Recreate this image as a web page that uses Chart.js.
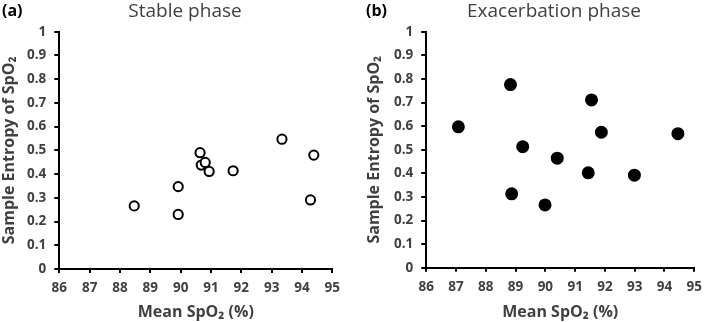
<!DOCTYPE html>
<html>
<head>
<meta charset="utf-8">
<script src="https://cdn.jsdelivr.net/npm/chart.js@4"></script>
<style>
  body { margin: 0; background: #fff; }
  #wrap { position: relative; width: 709px; height: 322px; overflow: hidden; font-family: "Open Sans", "Noto Sans", sans-serif; }
  .panel { position: absolute; top: 0; height: 322px; }
  .tag { position: absolute; top: -1px; font-weight: bold; font-size: 16px; color: #000; }
  .ttl { position: absolute; top: -3px; font-size: 19px; color: #404040; transform: translateX(-50%); white-space: nowrap; }
</style>
</head>
<body>
<div id="wrap">
  <div class="panel" style="left:0;width:355px"><canvas id="stableChart"></canvas></div>
  <div class="panel" style="left:355px;width:354px"><canvas id="exacChart"></canvas></div>
  <div class="tag" style="left:2px">(a)</div>
  <div class="ttl" style="left:185px">Stable phase</div>
  <div class="tag" style="left:366px">(b)</div>
  <div class="ttl" style="left:554px">Exacerbation phase</div>
</div>
<script>
// Stable phase: mean SpO2 vs sample entropy
const stableSpO2 = [88.47, 89.92, 89.92, 90.64, 90.68, 90.81, 90.94, 91.73, 93.34, 94.39, 94.28];
const stableEntropy = [0.266, 0.23, 0.347, 0.49, 0.438, 0.449, 0.411, 0.414, 0.547, 0.48, 0.291];

// Exacerbation phase
const exacSpO2 = [87.08, 88.83, 88.87, 89.24, 89.99, 90.40, 91.44, 91.55, 91.88, 92.99, 94.45];
const exacEntropy = [0.597, 0.776, 0.313, 0.513, 0.266, 0.464, 0.402, 0.711, 0.574, 0.392, 0.568];

const xTicks = [86, 87, 88, 89, 90, 91, 92, 93, 94, 95];
const yTicks = [0, 0.1, 0.2, 0.3, 0.4, 0.5, 0.6, 0.7, 0.8, 0.9, 1];

const textColor = '#404040';
const fontFamily = '"Open Sans", "Noto Sans", sans-serif';

function toPoints(xs, ys) {
    return xs.map((x, i) => ({ x: x, y: ys[i] }));
}

function makeChart(id, xs, ys, filled, box) {
    new Chart(document.getElementById(id), {
        type: 'scatter',
        data: {
            datasets: [{
                data: toPoints(xs, ys),
                pointRadius: filled ? 5.5 : 4.6,
                pointHoverRadius: filled ? 5.5 : 4.6,
                pointBorderWidth: 2,
                borderColor: '#000',
                backgroundColor: filled ? '#000' : '#fff'
            }]
        },
        options: {
            responsive: true,
            maintainAspectRatio: false,
            animation: false,
            layout: { padding: { top: box.top, right: box.right, left: 0, bottom: 0 } },
            plugins: { legend: { display: false }, tooltip: { enabled: false } },
            scales: {
                x: {
                    type: 'linear',
                    min: 86,
                    max: 95,
                    afterBuildTicks: s => { s.ticks = xTicks.map(v => ({ value: v })); },
                    afterFit: s => { s.height = box.xHeight; },
                    border: { display: true, color: '#000', width: 2 },
                    grid: { drawOnChartArea: false, drawTicks: true, tickLength: 4, color: '#000', lineWidth: 2 },
                    ticks: {
                        color: textColor, padding: 7,
                        callback: v => String(v),
                        font: { family: fontFamily, size: 13.5, weight: 'bold' }
                    },
                    title: {
                        display: true,
                        text: 'Mean SpO₂ (%)',
                        color: textColor,
                        padding: { top: 0, bottom: 0 },
                        font: { family: fontFamily, size: 16, weight: 'bold' }
                    }
                },
                y: {
                    type: 'linear',
                    min: 0,
                    max: 1,
                    afterBuildTicks: s => { s.ticks = yTicks.map(v => ({ value: v })); },
                    afterFit: s => { s.width = box.yWidth; },
                    border: { display: true, color: '#000', width: 2 },
                    grid: { drawOnChartArea: false, drawTicks: true, tickLength: 5, color: '#000', lineWidth: 2 },
                    ticks: {
                        color: textColor, padding: 8,
                        callback: v => String(v),
                        font: { family: fontFamily, size: 13.5, weight: 'bold' }
                    },
                    title: {
                        display: true,
                        text: 'Sample Entropy of SpO₂',
                        color: textColor,
                        padding: { top: box.yTitlePad, bottom: 0 },
                        font: { family: fontFamily, size: 16, weight: 'bold' }
                    }
                }
            }
        }
    });
}

makeChart('stableChart', stableSpO2, stableEntropy, false,
    { top: 31.7, right: 22.7, xHeight: 53, yWidth: 59.3, yTitlePad: 0 });
makeChart('exacChart', exacSpO2, exacEntropy, true,
    { top: 31.7, right: 8.5, xHeight: 54.3, yWidth: 71.2, yTitlePad: 10 });
</script>
</body>
</html>
